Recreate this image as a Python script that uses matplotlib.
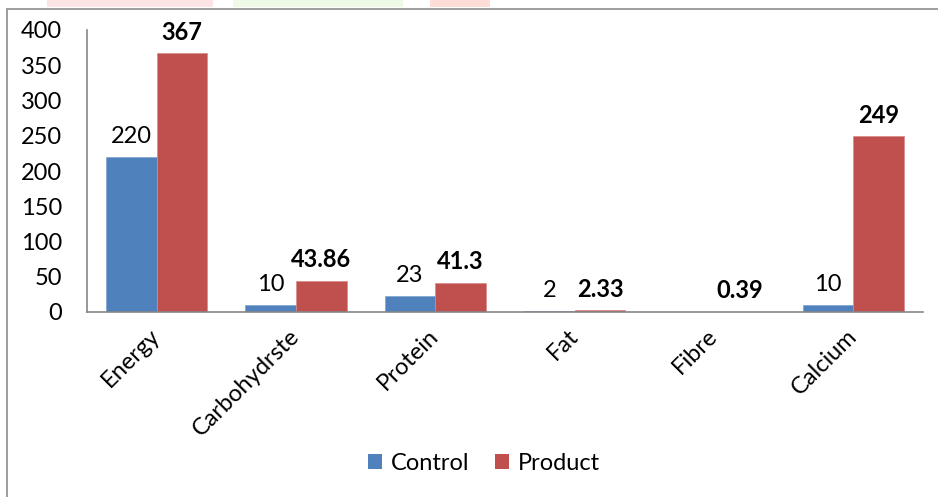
import matplotlib
matplotlib.use("Agg")
import matplotlib.pyplot as plt
from matplotlib.patches import Rectangle, Patch
import numpy as np

categories = ["Energy", "Carbohydrste", "Protein", "Fat", "Fibre", "Calcium"]
control = [220, 10, 23, 2, 0, 10]
product = [367, 43.86, 41.3, 2.33, 0.39, 249]
control_labels = ["220", "10", "23", "2", "", "10"]
product_labels = ["367", "43.86", "41.3", "2.33", "0.39", "249"]
yticks = [0, 50, 100, 150, 200, 250, 300, 350, 400]

plt.rcParams['font.family'] = ['Lato', 'DejaVu Sans']
FS = 17

W, H = 938, 497
fig = plt.figure(figsize=(W/100, H/100), dpi=100)

# decorative strips at top and outer border
for x0, x1, c in [(47, 213, '#fde4e4'), (233, 403, '#eefae6'), (430, 490, '#fdddd6')]:
    fig.patches.append(Rectangle((x0/W, 1-7/H), (x1-x0)/W, 7/H, transform=fig.transFigure,
                                 facecolor=c, edgecolor='none', zorder=0))
fig.patches.append(Rectangle((7/W, -0.1), 1.2, 1.1 - 9/H, transform=fig.transFigure,
                             facecolor='none', edgecolor='#8c8c8c', lw=1.2, zorder=1))

ax = fig.add_axes([87/W, 1-312/H, 836/W, 282/H])
x = np.arange(len(categories))
bw = 0.364
blue = '#4F81BD'
red = '#C0504D'
ax.bar(x - bw/2, control, bw, color=blue, edgecolor='#7fa3d0', lw=0.5, label='Control')
ax.bar(x + bw/2, product, bw, color=red, edgecolor='#d88a88', lw=0.5, label='Product')

for xi, v, t in zip(x - bw/2, control, control_labels):
    if t:
        ax.annotate(t, (xi, v), xytext=(0, 7), textcoords='offset points',
                    ha='center', va='bottom', fontsize=FS)
for xi, v, t in zip(x + bw/2, product, product_labels):
    ax.annotate(t, (xi, v), xytext=(0, 7), textcoords='offset points',
                ha='center', va='bottom', fontsize=FS, fontweight='bold')

ax.set_xlim(-0.5, len(categories) - 0.5)
ax.set_ylim(0, 400)
ax.set_yticks(yticks)
ax.set_yticklabels([str(v) for v in yticks], fontsize=FS)
ax.set_xticks(x)
ax.set_xticklabels(categories, fontsize=FS, rotation=45, ha='right', va='center',
                   rotation_mode='anchor')
ax.tick_params(axis='y', length=0, pad=18)
ax.tick_params(axis='x', length=0, pad=15)
for s in ['top', 'right']:
    ax.spines[s].set_visible(False)
for s in ['left', 'bottom']:
    ax.spines[s].set_color('#868686')
    ax.spines[s].set_linewidth(1.2)

handles = [Patch(facecolor=blue, label='Control'), Patch(facecolor=red, label='Product')]
fig.legend(handles=handles, loc='center', bbox_to_anchor=(484/W, 1-463/H), ncol=2,
           frameon=False, fontsize=FS, handlelength=0.6, handleheight=0.6,
           handletextpad=0.35, columnspacing=1.1)

fig.savefig('out.png', dpi=100)
